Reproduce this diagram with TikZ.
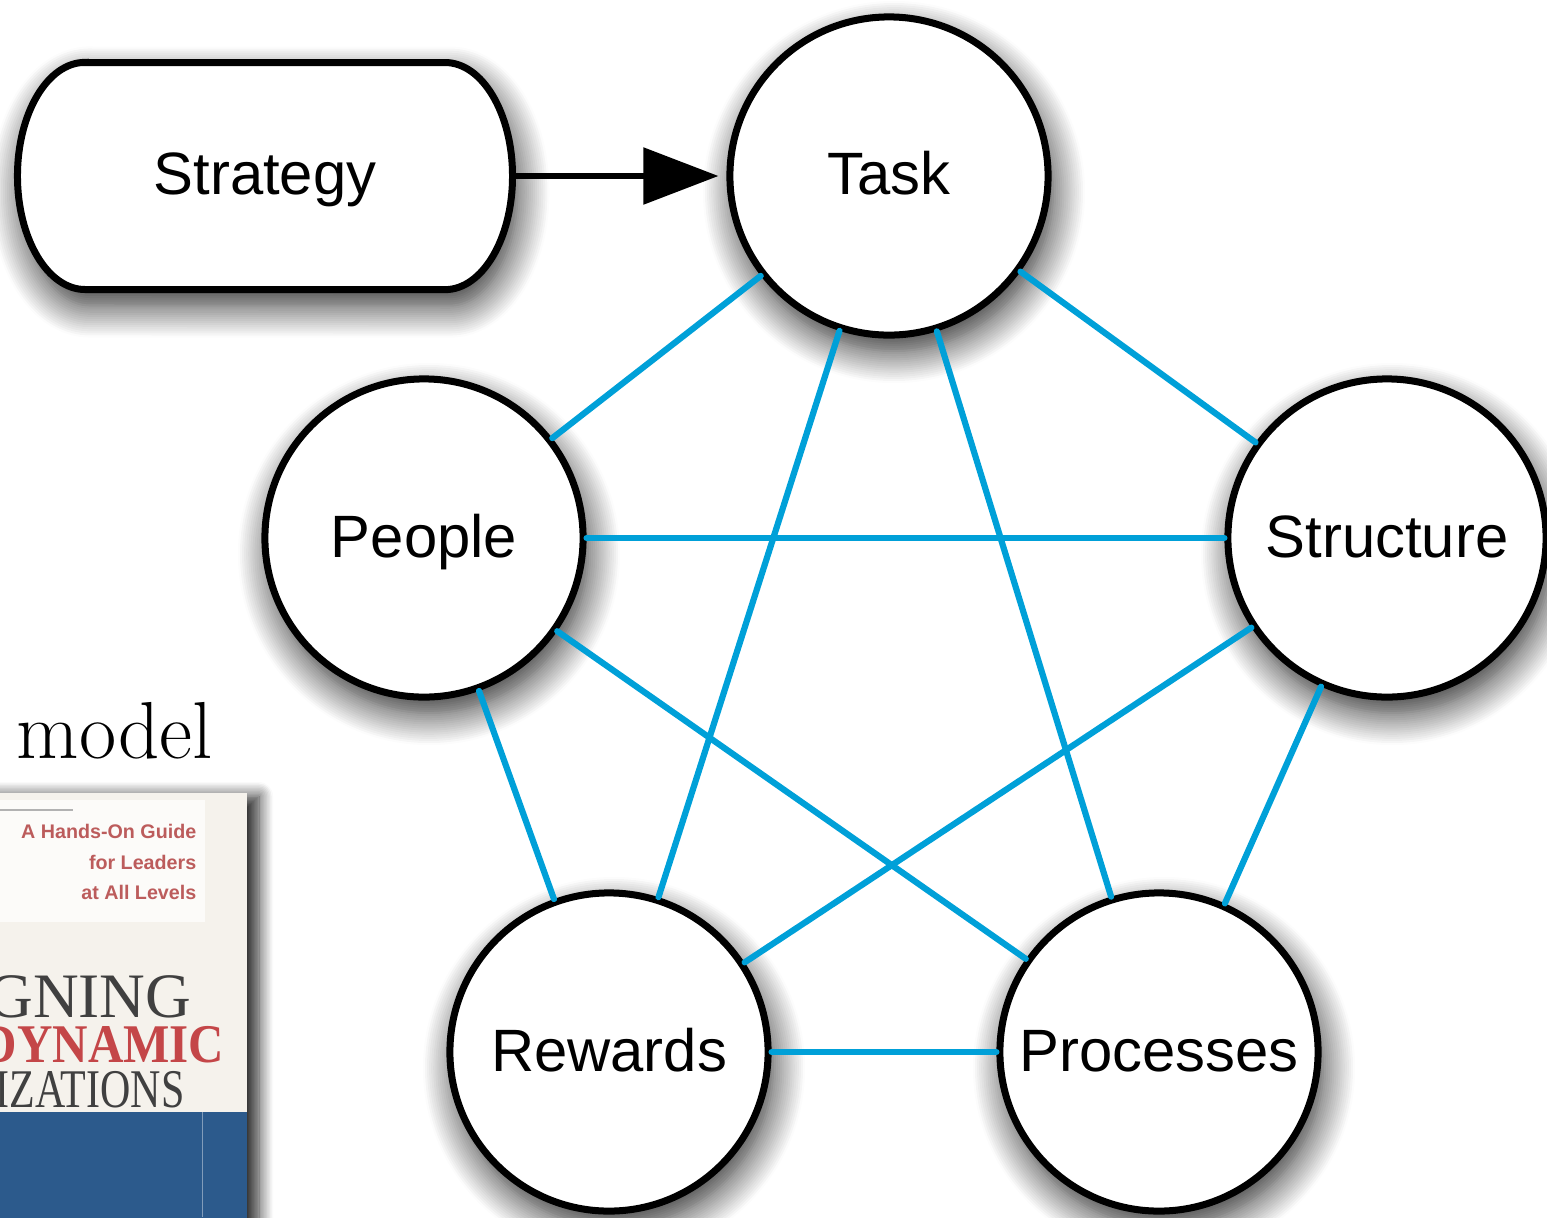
\documentclass[tikz,border=0pt]{standalone}
\usepackage{fontspec}
\setmainfont{Liberation Sans}
\newfontfamily\coverserif{Liberation Serif}
\newfontfamily\modelfont{Latin Modern Roman}
\usetikzlibrary{arrows.meta,shadows.blur,positioning}
\definecolor{linkblue}{RGB}{0,160,216}
\definecolor{coverblue}{RGB}{44,90,140}
\definecolor{coverbg}{RGB}{245,242,236}
\definecolor{titlered}{RGB}{196,70,72}
\definecolor{tagred}{RGB}{188,92,92}
\begin{document}
\begin{tikzpicture}[x=0.01cm,y=-0.01cm,
  soft/.style={blur shadow={shadow xshift=0.05cm,shadow yshift=-0.16cm,shadow blur radius=0.32cm,shadow blur steps=16,shadow opacity=85}},
  topic/.style={circle,draw,line width=0.07cm,fill=white,minimum size=3.18cm,inner sep=0pt,soft,text height=12.2pt,text depth=1.4pt,font=\fontsize{17}{20}\selectfont},
  stratbox/.style={rectangle,minimum width=4.95cm,minimum height=2.27cm,inner sep=0pt,text height=12.2pt,text depth=1.4pt,font=\fontsize{17}{20}\selectfont},
  link/.style={linkblue,line width=0.062cm,line cap=round},
  tagline/.style={anchor=base east,inner sep=0pt,text=tagred,font=\fontsize{5.6}{6}\selectfont\bfseries},
  booktitle/.style={anchor=base east,inner sep=0pt,text depth=0pt,text height=11pt,text=black!75,font=\coverserif\fontsize{18}{20}\selectfont}]
\useasboundingbox (0,0) rectangle (1547,1217);
%strategy
\draw[line width=0.07cm,fill=white,soft] (85,62.5) -- (445,62.5)
  arc[start angle=90,end angle=-90,x radius=0.675cm,y radius=1.135cm] -- (85,289.5)
  arc[start angle=270,end angle=90,x radius=0.675cm,y radius=1.135cm] -- cycle;
\node[stratbox] (strat) at (265,176) {Strategy};
%five factors
\node[topic] (task) at (889,176) {Task};
\node[topic] (people) at (424,538) {People};
\node[topic] (struct) at (1387,538) {Structure};
\node[topic] (rewards) at (609,1052) {Rewards};
\node[topic] (proc) at (1159,1052) {Processes};
%arrow
\draw[draw=black,line width=0.055cm,-{Triangle[length=0.75cm,width=0.56cm,fill=black]},shorten >=0.08cm] (strat.east) -- (task);
%links
\draw[link] (task) -- (people);
\draw[link] (task) -- (struct);
\draw[link] (task) -- (rewards);
\draw[link] (task) -- (proc);
\draw[link] (people) -- (struct);
\draw[link] (people) -- (rewards);
\draw[link] (people) -- (proc);
\draw[link] (struct) -- (rewards);
\draw[link] (struct) -- (proc);
\draw[link] (rewards) -- (proc);
%model and book
\node[anchor=base west,inner sep=0pt,font=\modelfont\fontsize{23}{26}\selectfont] (model) at (16,758) {model};
\fill[coverbg,blur shadow={shadow xshift=0.12cm,shadow yshift=-0.03cm,shadow blur radius=0.14cm,shadow blur steps=10,shadow opacity=85}] (-40,793) rectangle (247,1260);
\begin{scope}
\clip (0,793) rectangle (247,1217);
\fill[white!70!coverbg] (-10,800) rectangle (205,922);
\draw[gray!60,line width=0.02cm] (0,810) -- (73,810);
\node[tagline] (guide) at (197,838) {A Hands-On Guide};
\node[tagline] (leaders) at (197,869) {for Leaders};
\node[tagline] (levels) at (197,899) {at All Levels};
\node[booktitle] (designing) at (192,1017) {GNING};
\node[booktitle,text height=10pt,text=titlered,font=\coverserif\bfseries\fontsize{15.5}{18}\selectfont,xscale=0.9] (dynamic) at (225,1062) {DYNAMIC};
\node[booktitle,text height=10pt,font=\coverserif\fontsize{15.5}{18}\selectfont,xscale=0.77] (organizations) at (185,1107) {IZATIONS};
\fill[coverblue] (-40,1112) rectangle (247,1260);
\draw[coverblue!60!white,line width=0.01cm] (202,1112) -- (202,1217);
\end{scope}
\end{tikzpicture}
\end{document}
